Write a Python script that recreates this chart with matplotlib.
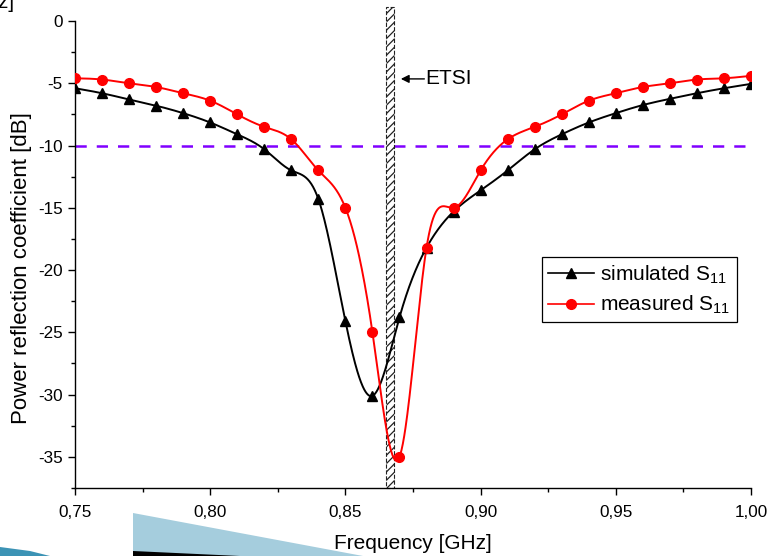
import numpy as np
import matplotlib
matplotlib.use("Agg")
import matplotlib.pyplot as plt
from matplotlib.patches import Rectangle, Polygon
from matplotlib.lines import Line2D
from matplotlib.ticker import MultipleLocator, FuncFormatter

plt.rcParams['font.family'] = ['Liberation Sans', 'DejaVu Sans']
plt.rcParams['mathtext.fontset'] = 'custom'
plt.rcParams['mathtext.rm'] = 'Liberation Sans'
plt.rcParams['mathtext.it'] = 'Liberation Sans:italic'
plt.rcParams['axes.unicode_minus'] = False
plt.rcParams['hatch.linewidth'] = 0.9

# ---------------- data ----------------
freq = [0.75, 0.76, 0.77, 0.78, 0.79, 0.80, 0.81, 0.82, 0.83, 0.84, 0.85, 0.86, 0.87,
        0.88, 0.89, 0.90, 0.91, 0.92, 0.93, 0.94, 0.95, 0.96, 0.97, 0.98, 0.99, 1.00]
simulated = [-5.4, -5.8, -6.3, -6.8, -7.4, -8.15, -9.1, -10.3, -12.0, -14.3, -24.1, -30.1, -23.8,
             -18.2, -15.3, -13.6, -12.0, -10.3, -9.1, -8.15, -7.4, -6.75, -6.25, -5.8, -5.4, -5.05]
measured = [-4.6, -4.7, -5.0, -5.3, -5.8, -6.4, -7.5, -8.5, -9.5, -12.0, -15.0, -25.0, -35.0,
            -18.2, -15.0, -12.0, -9.5, -8.5, -7.5, -6.4, -5.8, -5.3, -5.0, -4.7, -4.6, -4.4]
threshold = -10
etsi_band = [0.865, 0.868]
labels = ["simulated S$_{\\mathrm{11}}$", "measured S$_{\\mathrm{11}}$"]


def natural_spline(x, y, xs):
    x = np.asarray(x, float); y = np.asarray(y, float)
    n = len(x); h = np.diff(x)
    A = np.zeros((n, n)); b = np.zeros(n)
    A[0, 0] = 1; A[-1, -1] = 1
    for i in range(1, n - 1):
        A[i, i - 1] = h[i - 1]; A[i, i] = 2 * (h[i - 1] + h[i]); A[i, i + 1] = h[i]
        b[i] = 3 * ((y[i + 1] - y[i]) / h[i] - (y[i] - y[i - 1]) / h[i - 1])
    c = np.linalg.solve(A, b)
    bb = (y[1:] - y[:-1]) / h - h * (2 * c[:-1] + c[1:]) / 3
    d = (c[1:] - c[:-1]) / (3 * h)
    idx = np.clip(np.searchsorted(x, xs) - 1, 0, n - 2)
    dx = xs - x[idx]
    return y[idx] + bb[idx] * dx + c[idx] * dx ** 2 + d[idx] * dx ** 3


W, H = 771, 556
fig = plt.figure(figsize=(W / 100, H / 100), dpi=100)
ax = fig.add_axes([75 / W, 1 - 488 / H, 676 / W, 467 / H])

xs = np.linspace(freq[0], freq[-1], 1500)
ax.plot(xs, natural_spline(freq, simulated, xs), color='black', lw=1.4, zorder=4)
ax.plot(freq, simulated, ls='none', marker='^', ms=7.5, color='black', zorder=5)
ax.plot(xs, natural_spline(freq, measured, xs), color='red', lw=1.4, zorder=4)
ax.plot(freq, measured, ls='none', marker='o', ms=7, color='red', zorder=5)

ax.axhline(threshold, color='#8000ff', lw=1.8, dashes=(4.5, 4), zorder=1)

band = Rectangle((etsi_band[0], -37.5), etsi_band[1] - etsi_band[0], 38.6,
                 facecolor='white', edgecolor='#222222', hatch='////', lw=0.8,
                 linestyle='--', clip_on=False, zorder=2)
ax.add_patch(band)

ax.annotate('', xy=(0.8705, -4.65), xytext=(0.8792, -4.65),
            arrowprops=dict(arrowstyle='-|>', color='black', lw=1, mutation_scale=12,
                            shrinkA=0, shrinkB=0))
ax.text(0.8797, -4.65, 'ETSI', fontsize=15, va='center', ha='left')

ax.set_xlim(0.75, 1.00)
ax.set_ylim(-37.5, 0)
ax.xaxis.set_major_locator(MultipleLocator(0.05))
ax.xaxis.set_minor_locator(MultipleLocator(0.025))
ax.yaxis.set_major_locator(MultipleLocator(5))
ax.yaxis.set_minor_locator(MultipleLocator(2.5))
ax.xaxis.set_major_formatter(FuncFormatter(lambda v, p: f"{v:.2f}".replace('.', ',')))
ax.yaxis.set_major_formatter(FuncFormatter(lambda v, p: "0" if abs(v) < 1e-9 else f"{v:.0f}"))
ax.tick_params(which='major', direction='out', length=5, width=1, labelsize=12.3)
ax.tick_params(axis='x', which='major', pad=7)
ax.tick_params(axis='y', which='major', pad=4)
ax.tick_params(which='minor', direction='out', length=3, width=1)
for s in ['top', 'right']:
    ax.spines[s].set_visible(False)
for s in ['left', 'bottom']:
    ax.spines[s].set_linewidth(1)

ax.set_xlabel('Frequency [GHz]', fontsize=15, labelpad=10)
ax.set_ylabel('Power reflection coefficient [dB]', fontsize=16)
ax.yaxis.set_label_coords(-0.063, 0.47)

handles = [Line2D([], [], color='black', lw=1.2, marker='^', ms=7.5),
           Line2D([], [], color='red', lw=1.2, marker='o', ms=7)]
leg = ax.legend(handles, labels, loc='upper left', bbox_to_anchor=(0.691, 0.4946),
                borderaxespad=0, fontsize=15, frameon=True, fancybox=False,
                edgecolor='black', framealpha=1, handlelength=2.2, handletextpad=0.3,
                labelspacing=0.4, borderpad=0.3)
leg.get_frame().set_linewidth(0.9)

# slide decorations visible in the reference crop
def P(px, py):
    return (px / W, 1 - py / H)

fig.patches.append(Polygon([P(133, 513), P(363, 556), P(133, 556)], closed=True,
                           facecolor='#a5cddd', edgecolor='none', transform=fig.transFigure))
fig.patches.append(Polygon([P(133, 551), P(240, 556), P(133, 556)], closed=True,
                           facecolor='black', edgecolor='none', transform=fig.transFigure))
fig.patches.append(Polygon([P(0, 547), P(30, 551), P(50, 556), P(0, 556)], closed=True,
                           facecolor='#3c93b5', edgecolor='none', transform=fig.transFigure))
fig.text(15 / W, 1 - 8 / H, '[GHz]', fontsize=15, ha='right', va='baseline')

fig.savefig('out.png', dpi=100)
